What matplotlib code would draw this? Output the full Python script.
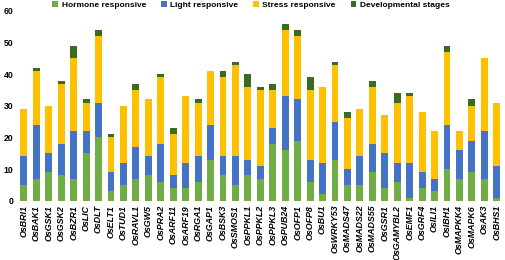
import numpy as np
import matplotlib
matplotlib.use("Agg")
import matplotlib.pyplot as plt

plt.rcParams['font.family'] = ['Liberation Sans', 'DejaVu Sans']

genes = ['OsBRI1', 'OsBAK1', 'OsGSK1', 'OsGSK2', 'OsBZR1', 'OsLIC', 'OsDLT', 'OsELT1',
         'OsTUD1', 'OsRAVL1', 'OsGW5', 'OsPRA2', 'OsARF11', 'OsARF19', 'OsRGA1', 'OsGAP1',
         'OsBSK3', 'OsSMOS1', 'OsPPKL1', 'OsPPKL2', 'OsPPKL3', 'OsPUB24', 'OsOFP1', 'OsOFP8',
         'OsBU1', 'OsWRKY53', 'OsMADS47', 'OsMADS22', 'OsMADS55', 'OsGSR1', 'OsGAMYBL2',
         'OsEMF1', 'OsGRF4', 'OsILI1', 'OsIBH1', 'OsMAPKK4', 'OsMAPK6', 'OsAK3', 'OsBHS1']

hormone = [5, 7, 9, 8, 7, 15, 20, 3, 5, 7, 8, 6, 4, 4, 6, 13, 8, 5, 8, 7, 18, 16, 19, 6,
           2, 13, 5, 5, 9, 4, 6, 1, 4, 3, 10, 7, 9, 7, 1]
light = [9, 17, 6, 10, 15, 7, 11, 6, 7, 10, 6, 12, 4, 8, 8, 11, 6, 9, 5, 4, 5, 17, 13, 7,
         10, 12, 5, 9, 9, 11, 6, 11, 5, 4, 14, 9, 10, 15, 10]
stress = [15, 17, 15, 19, 23, 9, 21, 11, 18, 18, 18, 21, 13, 21, 17, 17, 25, 29, 23, 24,
          12, 21, 20, 22, 24, 18, 16, 15, 18, 12, 19, 21, 19, 15, 23, 6, 11, 23, 20]
develop = [0, 1, 0, 1, 4, 1, 2, 1, 0, 2, 0, 1, 2, 0, 1, 0, 2, 1, 4, 1, 2, 2, 2, 4,
           0, 1, 2, 0, 2, 0, 3, 1, 0, 0, 2, 0, 2, 0, 0]

series = [
    ('Hormone responsive', hormone, '#70AD47'),
    ('Light responsive', light, '#4472C4'),
    ('Stress responsive', stress, '#FFC000'),
    ('Developmental stages', develop, '#3A6B22'),
]

fig = plt.figure(figsize=(5.05, 2.6), dpi=100)
ax = fig.add_axes([0.035, 0.228, 0.961, 0.73])

x = np.arange(len(genes))
bottom = np.zeros(len(genes))
for name, vals, color in series:
    ax.bar(x, vals, 0.55, bottom=bottom, color=color, label=name, linewidth=0)
    bottom += np.array(vals)

ax.set_xlim(-0.5, len(genes) - 0.5)
ax.set_ylim(0, 60)
ax.set_yticks(range(0, 61, 10))
ax.set_xticks(x)
ax.set_xticklabels(genes, rotation=90, fontsize=6.4, fontstyle='italic', fontweight='bold')
for lab in ax.get_yticklabels():
    lab.set_fontsize(6.2)
    lab.set_fontweight('bold')
ax.tick_params(length=0, pad=3)
for s in ax.spines.values():
    s.set_visible(False)

fig.legend(loc='upper center', bbox_to_anchor=(0.497, 1.025), ncol=4, frameon=False,
           prop={'size': 6, 'weight': 'bold'}, handlelength=0.7, handleheight=0.7,
           handletextpad=0.4, columnspacing=1.8)

fig.savefig('out.png', dpi=100)
